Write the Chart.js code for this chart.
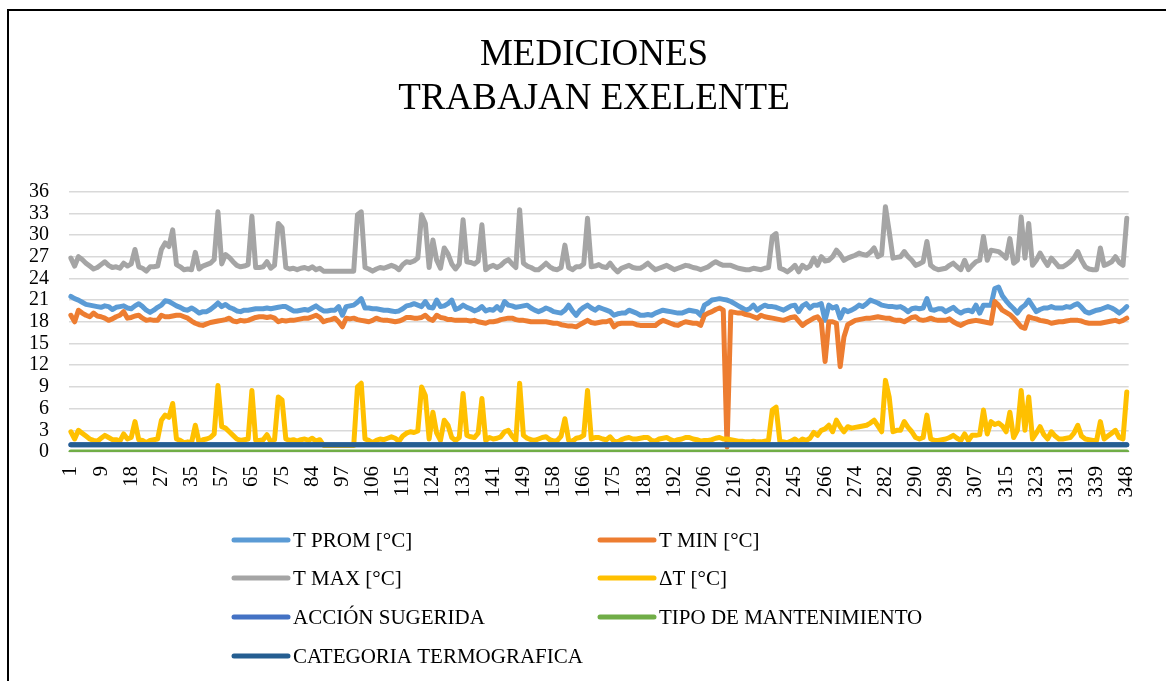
<!DOCTYPE html>
<html>
<head>
<meta charset="utf-8">
<script src="https://cdn.jsdelivr.net/npm/chart.js@4/dist/chart.umd.min.js"></script>
<style>
  body { margin: 0; background: #fff; }
  #wrap { position: relative; width: 1166px; height: 681px; overflow: hidden; }
  #frame { position: absolute; left: 7px; top: 9px; width: 1300px; height: 800px; border: 2px solid #000; pointer-events: none; }
</style>
</head>
<body>
<div id="wrap">
  <canvas id="medChart" width="1166" height="681"></canvas>
  <div id="frame"></div>
</div>
<script>
// tick labels shown on the category axis (every 8th record)
var tickLabels = [1, 9, 18, 27, 35, 57, 65, 75, 84, 97, 106, 115, 124, 133, 141, 149, 158, 166,
    175, 183, 192, 206, 216, 229, 245, 266, 274, 282, 290, 298, 307, 315, 323, 331, 339, 348];
var labelStep = 8;

var tProm = [
    21.5, 21.2, 21.0, 20.7, 20.4, 20.3, 20.2, 20.1, 20.0, 20.2,
    20.1, 19.7, 20.0, 20.1, 20.2, 19.9, 19.8, 20.2, 20.5, 20.1,
    19.6, 19.3, 19.6, 20.0, 20.3, 20.9, 20.8, 20.5, 20.2, 20.0,
    19.7, 19.6, 19.9, 19.6, 19.2, 19.4, 19.4, 19.7, 20.1, 20.6,
    20.1, 20.4, 20.0, 19.8, 19.5, 19.4, 19.6, 19.6, 19.7, 19.8,
    19.8, 19.8, 19.9, 19.8, 19.9, 20.0, 20.1, 20.1, 19.8, 19.5,
    19.5, 19.6, 19.7, 19.6, 19.9, 20.2, 19.8, 19.5, 19.5, 19.6,
    19.6, 20.1, 18.9, 20.1, 20.2, 20.3, 20.7, 21.2, 19.9, 19.9,
    19.8, 19.8, 19.7, 19.6, 19.6, 19.5, 19.4, 19.5, 19.8, 20.2,
    20.3, 20.5, 20.3, 20.1, 20.8, 20.0, 19.9, 21.0, 20.1, 20.2,
    20.5, 21.0, 19.7, 19.9, 20.3, 20.0, 19.8, 19.5, 19.7, 20.1,
    19.5, 19.7, 19.6, 20.1, 19.6, 20.8, 20.3, 20.2, 20.0, 20.1,
    20.2, 20.3, 19.9, 19.6, 19.4, 19.6, 19.9, 19.7, 19.4, 19.3,
    19.2, 19.6, 20.3, 19.5, 18.9, 19.6, 20.0, 20.3, 19.9, 19.6,
    20.0, 19.8, 19.6, 19.4, 18.9, 19.1, 19.2, 19.2, 19.6, 19.4,
    19.2, 18.9, 18.9, 19.0, 18.9, 19.2, 19.4, 19.6, 19.5, 19.4,
    19.3, 19.2, 19.2, 19.4, 19.6, 19.5, 19.4, 18.9, 20.3, 20.6,
    21.0, 21.1, 21.2, 21.1, 21.0, 20.8, 20.5, 20.2, 19.9, 19.6,
    19.8, 20.3, 19.6, 20.0, 20.3, 20.1, 20.1, 20.0, 19.8, 19.6,
    19.9, 20.2, 20.3, 19.4, 20.2, 20.5, 19.9, 20.3, 20.3, 20.5,
    18.2, 20.3, 19.9, 20.1, 18.5, 19.7, 19.4, 19.6, 19.9, 20.3,
    20.1, 20.5, 21.0, 20.8, 20.6, 20.3, 20.2, 20.1, 20.1, 20.0,
    20.1, 19.8, 19.4, 19.8, 19.9, 19.8, 19.9, 21.2, 19.7, 19.6,
    19.8, 19.8, 19.4, 19.7, 20.0, 19.5, 19.2, 19.5, 19.6, 19.4,
    20.3, 19.2, 20.3, 20.3, 20.3, 22.6, 22.8, 21.6, 20.9, 20.3,
    19.8, 19.2, 19.9, 20.3, 21.0, 20.2, 19.4, 19.7, 19.9, 19.9,
    20.1, 19.9, 19.9, 19.9, 20.1, 20.0, 20.3, 20.5, 20.0, 19.4,
    19.2, 19.4, 19.6, 19.7, 19.9, 20.1, 19.9, 19.6, 19.2, 19.6,
    20.1
];

var tMin = [
    18.9, 18.0, 19.6, 19.2, 18.9, 18.7, 19.2, 18.8, 18.7, 18.5,
    18.2, 18.4, 18.7, 18.9, 19.4, 18.5, 18.6, 18.8, 18.9, 18.5,
    18.2, 18.3, 18.2, 18.2, 18.9, 18.7, 18.7, 18.8, 18.9, 18.9,
    18.7, 18.5, 18.1, 17.8, 17.6, 17.5, 17.7, 17.9, 18.0, 18.1,
    18.2, 18.3, 18.5, 18.1, 18.0, 18.2, 18.1, 18.2, 18.4, 18.6,
    18.7, 18.7, 18.6, 18.7, 18.5, 18.0, 18.2, 18.1, 18.2, 18.2,
    18.3, 18.4, 18.5, 18.5, 18.7, 18.9, 18.6, 18.0, 18.2, 18.3,
    18.5, 18.0, 17.3, 18.5, 18.4, 18.5, 18.3, 18.2, 18.1, 18.0,
    18.2, 18.5, 18.3, 18.2, 18.2, 18.1, 18.0, 18.1, 18.3, 18.6,
    18.6, 18.5, 18.5, 18.6, 18.9, 18.4, 18.2, 18.9, 18.6, 18.5,
    18.3, 18.3, 18.2, 18.2, 18.2, 18.2, 18.1, 18.2, 18.0, 17.9,
    17.8, 18.0, 18.0, 18.1, 18.3, 18.4, 18.5, 18.5, 18.3, 18.2,
    18.2, 18.1, 18.0, 18.0, 18.0, 18.0, 18.0, 17.9, 17.8, 17.8,
    17.6, 17.5, 17.4, 17.4, 17.3, 17.6, 17.9, 18.2, 17.9, 17.8,
    17.9, 18.0, 18.0, 18.2, 17.3, 17.7, 17.8, 17.8, 17.8, 17.8,
    17.6, 17.5, 17.5, 17.5, 17.5, 17.5, 17.9, 18.2, 18.0, 17.8,
    17.6, 17.5, 17.8, 18.0, 17.9, 17.8, 17.8, 17.5, 18.9, 19.2,
    19.4, 19.7, 19.9, 19.6, 0.7, 19.4, 19.3, 19.2, 19.2, 19.0,
    18.9, 18.7, 18.5, 18.9, 18.7, 18.6, 18.5, 18.4, 18.3, 18.2,
    18.4, 18.6, 18.7, 18.1, 17.5, 17.9, 18.2, 18.5, 18.7, 18.0,
    12.5, 18.0, 18.0, 17.8, 11.8, 15.9, 17.6, 17.9, 18.2, 18.3,
    18.4, 18.5, 18.5, 18.6, 18.7, 18.6, 18.5, 18.5, 18.3, 18.2,
    18.2, 18.0, 18.3, 18.6, 18.7, 18.3, 18.2, 18.3, 18.5, 18.3,
    18.2, 18.2, 18.2, 18.4, 18.0, 17.7, 17.5, 17.8, 18.0, 18.1,
    18.2, 18.1, 18.0, 17.9, 17.8, 20.8, 20.3, 19.6, 19.3, 19.0,
    18.5, 17.9, 17.3, 17.1, 18.7, 18.5, 18.4, 18.2, 18.1, 18.0,
    17.8, 17.9, 18.0, 18.0, 18.1, 18.2, 18.2, 18.2, 18.1, 17.9,
    17.8, 17.8, 17.8, 17.8, 17.9, 18.0, 18.1, 18.2, 18.0, 18.2,
    18.5
];

var tMax = [
    26.8, 25.7, 27.0, 26.6, 26.1, 25.7, 25.3, 25.5, 25.9, 26.3,
    25.8, 25.5, 25.6, 25.4, 26.1, 25.7, 26.0, 28.0, 25.6, 25.4,
    25.0, 25.6, 25.6, 25.7, 28.0, 28.9, 28.4, 30.7, 25.9, 25.6,
    25.2, 25.3, 25.2, 27.6, 25.3, 25.7, 25.9, 26.1, 26.6, 33.2,
    26.0, 27.3, 26.9, 26.3, 25.8, 25.6, 25.7, 25.9, 32.6, 25.5,
    25.5, 25.6, 26.3, 25.4, 25.8, 31.6, 31.0, 25.5, 25.3, 25.4,
    25.2, 25.4, 25.5, 25.3, 25.6, 25.2, 25.4, 25.0, 25.0, 25.0,
    25.0, 25.0, 25.0, 25.0, 25.0, 25.0, 32.8, 33.2, 25.5, 25.3,
    25.0, 25.3, 25.5, 25.4, 25.6, 25.8, 25.6, 25.2, 25.9, 26.3,
    26.2, 26.4, 26.8, 32.8, 31.6, 25.5, 29.3, 26.5, 25.4, 28.2,
    27.4, 26.0, 25.3, 26.0, 32.1, 26.3, 26.2, 26.0, 26.4, 31.4,
    25.2, 25.6, 25.8, 25.5, 25.8, 26.3, 26.6, 26.0, 25.5, 33.5,
    26.1, 25.7, 25.5, 25.2, 25.2, 25.6, 26.1, 25.6, 25.3, 25.2,
    25.5, 28.6, 25.5, 25.2, 25.6, 25.6, 26.0, 32.3, 25.6, 25.7,
    25.9, 25.6, 25.5, 26.1, 25.4, 24.9, 25.4, 25.6, 25.8, 25.5,
    25.4, 25.4, 25.7, 26.1, 25.6, 25.2, 25.4, 25.6, 25.8, 25.5,
    25.2, 25.4, 25.6, 25.8, 25.7, 25.5, 25.4, 25.2, 25.4, 25.6,
    26.0, 26.3, 26.0, 25.8, 25.8, 25.8, 25.6, 25.4, 25.3, 25.2,
    25.2, 25.4, 25.3, 25.2, 25.4, 25.5, 29.8, 30.2, 25.4, 25.2,
    24.9, 25.3, 25.8, 24.9, 25.8, 25.4, 25.7, 26.8, 25.8, 27.0,
    26.4, 26.5, 27.0, 27.9, 27.3, 26.5, 26.8, 27.0, 27.2, 27.5,
    27.3, 27.2, 27.6, 28.2, 27.0, 27.3, 33.9, 30.5, 26.8, 26.9,
    27.0, 27.7, 27.0, 26.5, 25.8, 26.0, 26.3, 29.1, 25.8, 25.4,
    25.2, 25.3, 25.4, 25.8, 26.1, 25.6, 25.2, 26.5, 25.2, 25.8,
    26.3, 26.5, 29.8, 26.5, 27.9, 27.8, 27.7, 27.3, 26.8, 29.5,
    26.1, 26.5, 32.5, 26.8, 31.6, 25.8, 26.5, 27.5, 26.6, 25.8,
    26.8, 26.2, 25.6, 25.6, 25.9, 26.3, 26.8, 27.7, 26.5, 25.6,
    25.3, 25.2, 25.2, 28.2, 25.8, 26.0, 26.3, 27.0, 26.2, 25.8,
    32.3
];

var deltaT = [
    2.8, 1.8, 3.0, 2.6, 2.2, 1.8, 1.6, 1.5, 1.9, 2.3,
    2.0, 1.7, 1.7, 1.5, 2.5, 1.8, 2.0, 4.2, 1.7, 1.6,
    1.3, 1.6, 1.7, 1.8, 4.4, 5.1, 4.8, 6.7, 1.8, 1.6,
    1.3, 1.4, 1.3, 3.7, 1.3, 1.7, 1.8, 2.0, 2.5, 9.2,
    3.5, 3.3, 2.8, 2.3, 1.8, 1.6, 1.7, 1.8, 8.5, 1.6,
    1.6, 1.7, 2.4, 1.4, 1.7, 7.6, 7.2, 1.8, 1.6, 1.7,
    1.5, 1.7, 1.8, 1.6, 1.9, 1.5, 1.7, 0.9, 0.9, 0.9,
    0.9, 0.9, 0.9, 0.9, 0.9, 0.9, 9.0, 9.5, 1.8, 1.6,
    1.3, 1.6, 1.8, 1.7, 1.9, 2.1, 1.9, 1.5, 2.2, 2.6,
    2.8, 2.7, 2.9, 9.0, 7.8, 1.8, 5.5, 2.6, 1.6, 4.4,
    3.7, 2.0, 1.6, 2.0, 8.1, 2.3, 2.1, 2.0, 2.6, 7.4,
    1.6, 2.0, 1.8, 1.9, 2.1, 2.8, 3.0, 2.2, 1.6, 9.5,
    2.3, 1.9, 1.7, 1.6, 1.8, 2.0, 2.1, 1.7, 1.5, 1.6,
    2.2, 4.6, 1.6, 1.5, 1.9, 2.0, 2.3, 8.5, 1.8, 2.0,
    2.0, 1.8, 1.7, 2.1, 1.5, 1.4, 1.7, 1.9, 2.0, 1.8,
    1.8, 1.9, 2.0, 2.0, 1.6, 1.5, 1.8, 1.9, 2.0, 1.7,
    1.5, 1.7, 1.8, 2.0, 2.0, 1.8, 1.7, 1.5, 1.6, 1.6,
    1.7, 1.9, 2.0, 1.8, 1.8, 1.7, 1.6, 1.5, 1.5, 1.4,
    1.4, 1.5, 1.4, 1.4, 1.5, 1.6, 5.8, 6.2, 1.5, 1.4,
    1.3, 1.5, 1.8, 1.4, 1.8, 1.6, 1.9, 2.7, 2.3, 3.0,
    3.2, 3.7, 2.8, 4.4, 3.5, 2.8, 3.5, 3.3, 3.4, 3.5,
    3.6, 3.7, 4.0, 4.4, 3.6, 2.8, 9.9, 7.6, 2.8, 3.0,
    3.0, 4.2, 3.4, 2.8, 2.0, 1.8, 2.0, 5.1, 1.8, 1.6,
    1.6, 1.7, 1.8, 2.0, 2.3, 1.9, 1.6, 2.5, 1.6, 2.3,
    2.3, 2.4, 5.8, 2.5, 4.2, 3.8, 4.0, 3.6, 2.8, 5.5,
    2.0, 3.0, 8.5, 3.0, 7.6, 1.8, 2.6, 3.5, 2.4, 1.8,
    2.8, 2.2, 1.8, 1.8, 1.9, 2.0, 2.6, 3.7, 2.2, 1.8,
    1.7, 1.6, 1.6, 4.2, 1.8, 2.2, 2.6, 3.0, 2.0, 1.8,
    8.3
];

var accionSugerida = [
    1,1,1,1,1,1,1,1,1,1, 1,1,1,1,1,1,1,1,1,1, 1,1,1,1,1,1,1,1,1,1, 1,1,1,1,1,1,1,1,1,1,
    1,1,1,1,1,1,1,1,1,1, 1,1,1,1,1,1,1,1,1,1, 1,1,1,1,1,1,1,1,1,1, 1,1,1,1,1,1,1,1,1,1,
    1,1,1,1,1,1,1,1,1,1, 1,1,1,1,1,1,1,1,1,1, 1,1,1,1,1,1,1,1,1,1, 1,1,1,1,1,1,1,1,1,1,
    1,1,1,1,1,1,1,1,1,1, 1,1,1,1,1,1,1,1,1,1, 1,1,1,1,1,1,1,1,1,1, 1,1,1,1,1,1,1,1,1,1,
    1,1,1,1,1,1,1,1,1,1, 1,1,1,1,1,1,1,1,1,1, 1,1,1,1,1,1,1,1,1,1, 1,1,1,1,1,1,1,1,1,1,
    1,1,1,1,1,1,1,1,1,1, 1,1,1,1,1,1,1,1,1,1, 1,1,1,1,1,1,1,1,1,1, 1,1,1,1,1,1,1,1,1,1,
    1,1,1,1,1,1,1,1,1,1, 1,1,1,1,1,1,1,1,1,1, 1,1,1,1,1,1,1,1,1,1, 1,1,1,1,1,1,1,1,1,1,
    1
];

var tipoMantenimiento = [
    0,0,0,0,0,0,0,0,0,0, 0,0,0,0,0,0,0,0,0,0, 0,0,0,0,0,0,0,0,0,0, 0,0,0,0,0,0,0,0,0,0,
    0,0,0,0,0,0,0,0,0,0, 0,0,0,0,0,0,0,0,0,0, 0,0,0,0,0,0,0,0,0,0, 0,0,0,0,0,0,0,0,0,0,
    0,0,0,0,0,0,0,0,0,0, 0,0,0,0,0,0,0,0,0,0, 0,0,0,0,0,0,0,0,0,0, 0,0,0,0,0,0,0,0,0,0,
    0,0,0,0,0,0,0,0,0,0, 0,0,0,0,0,0,0,0,0,0, 0,0,0,0,0,0,0,0,0,0, 0,0,0,0,0,0,0,0,0,0,
    0,0,0,0,0,0,0,0,0,0, 0,0,0,0,0,0,0,0,0,0, 0,0,0,0,0,0,0,0,0,0, 0,0,0,0,0,0,0,0,0,0,
    0,0,0,0,0,0,0,0,0,0, 0,0,0,0,0,0,0,0,0,0, 0,0,0,0,0,0,0,0,0,0, 0,0,0,0,0,0,0,0,0,0,
    0,0,0,0,0,0,0,0,0,0, 0,0,0,0,0,0,0,0,0,0, 0,0,0,0,0,0,0,0,0,0, 0,0,0,0,0,0,0,0,0,0,
    0
];

var categoriaTermografica = [
    1,1,1,1,1,1,1,1,1,1, 1,1,1,1,1,1,1,1,1,1, 1,1,1,1,1,1,1,1,1,1, 1,1,1,1,1,1,1,1,1,1,
    1,1,1,1,1,1,1,1,1,1, 1,1,1,1,1,1,1,1,1,1, 1,1,1,1,1,1,1,1,1,1, 1,1,1,1,1,1,1,1,1,1,
    1,1,1,1,1,1,1,1,1,1, 1,1,1,1,1,1,1,1,1,1, 1,1,1,1,1,1,1,1,1,1, 1,1,1,1,1,1,1,1,1,1,
    1,1,1,1,1,1,1,1,1,1, 1,1,1,1,1,1,1,1,1,1, 1,1,1,1,1,1,1,1,1,1, 1,1,1,1,1,1,1,1,1,1,
    1,1,1,1,1,1,1,1,1,1, 1,1,1,1,1,1,1,1,1,1, 1,1,1,1,1,1,1,1,1,1, 1,1,1,1,1,1,1,1,1,1,
    1,1,1,1,1,1,1,1,1,1, 1,1,1,1,1,1,1,1,1,1, 1,1,1,1,1,1,1,1,1,1, 1,1,1,1,1,1,1,1,1,1,
    1,1,1,1,1,1,1,1,1,1, 1,1,1,1,1,1,1,1,1,1, 1,1,1,1,1,1,1,1,1,1, 1,1,1,1,1,1,1,1,1,1,
    1
];

var seriesNames = ['T PROM [°C]', 'T MIN [°C]', 'T MAX [°C]', '\u0394T [°C]',
    'ACCIÓN SUGERIDA', 'TIPO DE MANTENIMIENTO', 'CATEGORIA TERMOGRAFICA'];
var seriesData = [tProm, tMin, tMax, deltaT, accionSugerida, tipoMantenimiento, categoriaTermografica];
// Office palette
var seriesColors = ['#5B9BD5', '#ED7D31', '#A5A5A5', '#FFC000', '#4472C4', '#70AD47', '#255E91'];

// category axis: only every 8th record is labelled
var categories = tProm.map(function (v, i) {
    return i % labelStep === 0 ? String(tickLabels[i / labelStep]) : '';
});

var serif = "'Liberation Serif', 'Times New Roman', serif";
var lineW = 5;

var datasets = seriesData.map(function (d, i) {
    return {
        label: seriesNames[i],
        data: d,
        borderColor: seriesColors[i],
        backgroundColor: seriesColors[i],
        borderWidth: lineW,
        pointRadius: 0,
        tension: 0,
        fill: false,
        borderJoinStyle: 'round',
        borderCapStyle: 'round',
        order: seriesData.length - 1 - i // later series on top, as in Excel
    };
});

// two-column legend under the plot
var excelLegend = {
    id: 'excelLegend',
    afterDraw: function (chart) {
        var ctx = chart.ctx;
        var colX = [232, 598];
        var rowY = [540, 578, 617, 656];
        ctx.save();
        ctx.font = '21px ' + serif;
        ctx.textBaseline = 'middle';
        ctx.textAlign = 'left';
        chart.data.datasets.forEach(function (ds, i) {
            var x = colX[i % 2];
            var y = rowY[Math.floor(i / 2)];
            ctx.strokeStyle = ds.borderColor;
            ctx.lineWidth = lineW;
            ctx.lineCap = 'round';
            ctx.beginPath();
            ctx.moveTo(x + 2, y);
            ctx.lineTo(x + 56, y);
            ctx.stroke();
            ctx.fillStyle = '#000';
            ctx.fillText(ds.label, x + 61, y + 1);
        });
        ctx.restore();
    }
};

var ctx = document.getElementById('medChart').getContext('2d');
var medChart = new Chart(ctx, {
    type: 'line',
    data: {
        labels: categories,
        datasets: datasets
    },
    options: {
        responsive: false,
        animation: false,
        layout: {
            // uneven side padding centres the title where the original has it
            padding: { left: 22, right: 0, top: 0, bottom: 177 }
        },
        plugins: {
            legend: { display: false },
            tooltip: { enabled: false },
            title: {
                display: true,
                text: ['MEDICIONES', 'TRABAJAN EXELENTE'],
                color: '#000',
                font: { family: serif, size: 37, weight: 'normal', lineHeight: 1.19 },
                padding: { top: 33, bottom: 70.5 }
            }
        },
        scales: {
            x: {
                offset: true,
                grid: { display: false, drawTicks: false },
                border: { display: false },
                ticks: {
                    autoSkip: false,
                    minRotation: 90,
                    maxRotation: 90,
                    padding: 14,
                    color: '#000',
                    font: { family: serif, size: 21 }
                },
                afterFit: function (scale) { scale.height = 52; }
            },
            y: {
                min: 0,
                max: 36,
                grid: { color: '#D9D9D9', lineWidth: 1.5, drawTicks: false },
                border: { display: false },
                ticks: {
                    stepSize: 3,
                    autoSkip: false,
                    padding: 20,
                    color: '#000',
                    font: { family: serif, size: 20 }
                },
                afterFit: function (scale) { scale.width = 47; }
            },
            // empty spacer on the right so the plot ends where the original does
            yRight: {
                position: 'right',
                min: 0,
                max: 36,
                grid: { display: false, drawTicks: false },
                border: { display: false },
                ticks: { display: false },
                afterFit: function (scale) { scale.width = 16; }
            }
        }
    },
    plugins: [excelLegend]
});
</script>
</body>
</html>
